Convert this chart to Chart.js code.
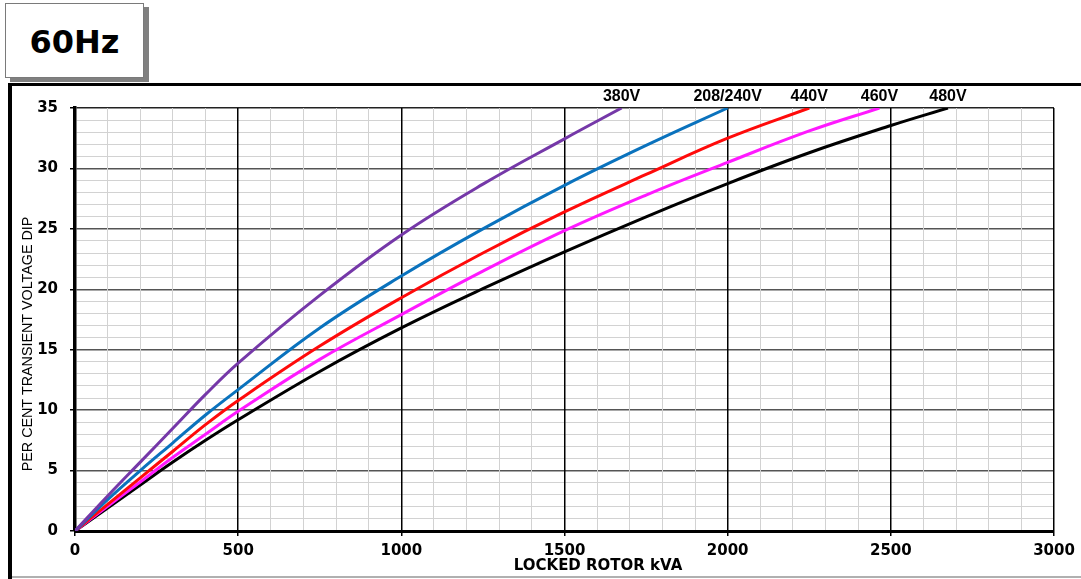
<!DOCTYPE html>
<html>
<head>
<meta charset="utf-8">
<script src="https://cdn.jsdelivr.net/npm/chart.js@4"></script>
<style>
  html, body { margin: 0; padding: 0; background: #fff; }
  #wrap { position: relative; width: 1081px; height: 579px; overflow: hidden; }
  #myChart { position: absolute; left: 0; top: 0; }
  .frame { position: absolute; background: #000; }
  #freq {
    position: absolute; left: 5px; top: 3px; width: 139px; height: 75px;
    background: #fff; border: 1px solid #7a7a7a; box-shadow: 5px 4px 0 #808080;
    font: bold 32px "DejaVu Sans", sans-serif; color: #000;
    display: flex; align-items: center; justify-content: center; padding-top: 2px; box-sizing: border-box;
  }
</style>
</head>
<body>
<div id="wrap">
  <div class="frame" style="left:8px; top:83px; width:1073px; height:3px;"></div>
  <div class="frame" style="left:8px; top:83px; width:4px; height:496px;"></div>
  <div class="frame" style="left:12px; top:576px; width:1069px; height:2px; background:#b0b0b0;"></div>
  <div id="freq">60Hz</div>
  <canvas id="myChart" width="1081" height="579"></canvas>
</div>
<script>
// locked rotor kVA vs percent voltage dip, one curve per voltage
const kva380 = [0, 100, 200, 300, 400, 500, 750, 1000, 1250, 1500, 1675];
const dip380 = [0, 2.9, 5.7, 8.5, 11.3, 13.9, 19.5, 24.5, 28.7, 32.45, 35];

const kva240 = [0, 100, 200, 300, 400, 500, 750, 1000, 1250, 1500, 1750, 2000];
const dip240 = [0, 2.6, 5.0, 7.3, 9.6, 11.7, 16.8, 21.1, 25.0, 28.6, 31.9, 35];

const kva440 = [0, 100, 200, 300, 400, 500, 750, 1000, 1250, 1500, 1750, 2000, 2250];
const dip440 = [0, 2.2, 4.4, 6.6, 8.8, 10.8, 15.3, 19.3, 23.0, 26.4, 29.5, 32.5, 35];

const kva460 = [0, 100, 200, 300, 400, 500, 750, 1000, 1250, 1500, 1750, 2000, 2250, 2465];
const dip460 = [0, 2.05, 4.05, 6.1, 8.0, 9.9, 14.2, 17.9, 21.5, 24.85, 27.8, 30.5, 33.1, 35];

const kva480 = [0, 100, 200, 300, 400, 500, 750, 1000, 1250, 1500, 1750, 2000, 2250, 2500, 2675];
const dip480 = [0, 1.9, 3.8, 5.7, 7.5, 9.2, 13.2, 16.8, 20.05, 23.1, 26.0, 28.75, 31.3, 33.55, 35];

const seriesLabels = ['380V', '208/240V', '440V', '460V', '480V'];
const seriesColors = ['#7538a8', '#0a72bd', '#ff0a0a', '#ff19ff', '#000000'];

function points(xs, ys) {
    return xs.map((x, i) => ({x: x, y: ys[i]}));
}

const allData = [
    points(kva380, dip380),
    points(kva240, dip240),
    points(kva440, dip440),
    points(kva460, dip460),
    points(kva480, dip480)
];

const tickFont = {family: 'DejaVu Sans', size: 15, weight: 'bold'};

// labels above the curve ends plus the two axis titles
const annotations = {
    id: 'annotations',
    afterDraw(chart) {
        const c = chart.ctx;
        const xs = chart.scales.x;
        c.save();
        c.fillStyle = '#000';
        c.textAlign = 'center';
        c.textBaseline = 'middle';
        c.font = 'bold 16px "Liberation Sans", Arial, sans-serif';
        chart.data.datasets.forEach(ds => {
            const last = ds.data[ds.data.length - 1];
            c.fillText(ds.label, xs.getPixelForValue(last.x), 97);
        });

        c.font = 'bold 15px "DejaVu Sans", sans-serif';
        c.fillText('LOCKED ROTOR kVA', 598, 566);

        c.translate(28.5, 344);
        c.rotate(-Math.PI / 2);
        c.font = '14.3px "Liberation Sans", Arial, sans-serif';
        c.fillText('PER CENT TRANSIENT VOLTAGE DIP', 0, 0);
        c.restore();
    }
};

const ctx = document.getElementById('myChart').getContext('2d');

var graphData = {
    type: 'line',
    data: {
        datasets: allData.map((d, i) => ({
            label: seriesLabels[i],
            data: d,
            borderColor: seriesColors[i],
            backgroundColor: seriesColors[i],
            borderWidth: 3,
            pointRadius: 0,
            tension: 0.4,
            fill: false
        }))
    },
    options: {
        responsive: false,
        animation: false,
        layout: {padding: {left: 14, right: 27, top: 108, bottom: 0}},
        plugins: {
            legend: {display: false},
            tooltip: {enabled: false}
        },
        scales: {
            x: {
                type: 'linear',
                min: 0,
                max: 3000,
                afterFit: s => { s.height = 48; },
                ticks: {
                    stepSize: 100,
                    autoSkip: false,
                    maxRotation: 0,
                    padding: 6,
                    color: '#000',
                    font: tickFont,
                    callback: v => (v % 500 === 0 ? v : '')
                },
                grid: {
                    z: -0.5, // vertical lines over the horizontal ones
                    color: c => (c.tick && c.tick.value % 500 === 0 ? '#000' : '#d2d2d2'),
                    lineWidth: c => (c.tick && c.tick.value % 500 === 0 ? 1.5 : 1),
                    tickColor: c => (c.tick && c.tick.value % 500 === 0 ? '#000' : 'rgba(0,0,0,0)'),
                    tickLength: 5
                },
                border: {color: '#000', width: 3}
            },
            y: {
                min: 0,
                max: 35,
                afterFit: s => { s.width = 61; },
                ticks: {
                    stepSize: 1,
                    autoSkip: false,
                    padding: 12,
                    color: '#000',
                    font: tickFont,
                    callback: v => (v % 5 === 0 ? v : '')
                },
                grid: {
                    color: c => {
                        if (!c.tick) return '#d2d2d2';
                        if (c.tick.value === 35) return '#222';
                        return c.tick.value % 5 === 0 ? '#555' : '#d2d2d2';
                    },
                    lineWidth: c => (c.tick && c.tick.value % 5 === 0 ? 1.5 : 1),
                    tickColor: c => (c.tick && c.tick.value % 5 === 0 ? '#000' : 'rgba(0,0,0,0)'),
                    tickLength: 5
                },
                border: {color: '#000', width: 3.5}
            }
        }
    },
    plugins: [annotations]
};

const myChart = new Chart(ctx, graphData);
</script>
</body>
</html>
